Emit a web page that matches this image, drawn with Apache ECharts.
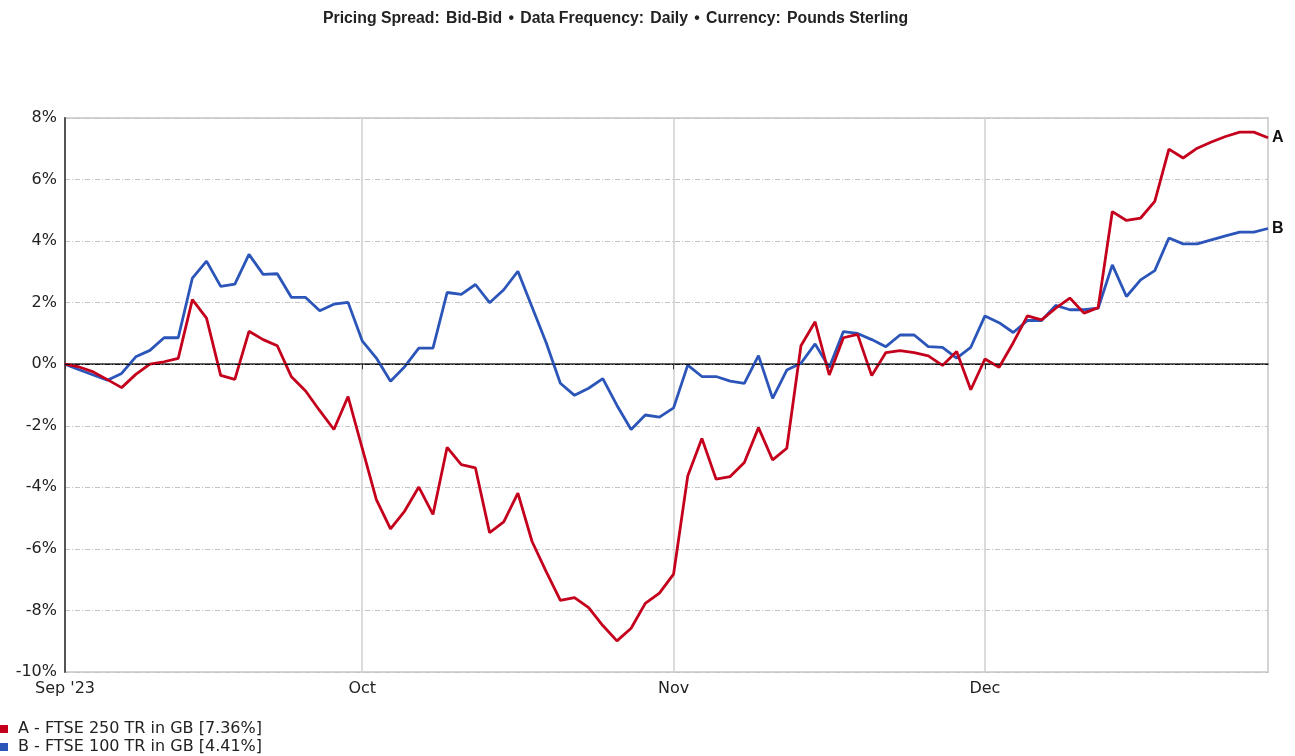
<!DOCTYPE html>
<html>
<head>
<meta charset="utf-8">
<script src="https://cdn.jsdelivr.net/npm/echarts@6/dist/echarts.min.js"></script>
<style>
  html, body { margin: 0; padding: 0; background: #fff; }
  #chart { width: 1295px; height: 756px; }
</style>
</head>
<body>
<div id="chart"></div>
<script>
// Series values (% cumulative total return), one per weekday from 1 Sep 2023
const ftse250 = [
  0, -0.09, -0.25, -0.5, -0.76, -0.33, 0.0, 0.08, 0.19, 2.1,
  1.5, -0.36, -0.49, 1.07, 0.8, 0.6, -0.41, -0.87, -1.51, -2.12,
  -1.05, -2.73, -4.4, -5.35, -4.77, -3.99, -4.88, -2.7, -3.26, -3.37,
  -5.47, -5.12, -4.19, -5.76, -6.74, -7.67, -7.58, -7.91, -8.49, -8.99,
  -8.58, -7.77, -7.44, -6.82, -3.63, -2.41, -3.73, -3.65, -3.19, -2.06,
  -3.11, -2.73, 0.6, 1.38, -0.35, 0.86, 0.97, -0.37, 0.38, 0.44,
  0.38, 0.27, -0.04, 0.41, -0.83, 0.17, -0.1, 0.7, 1.57, 1.44,
  1.82, 2.15, 1.66, 1.84, 4.96, 4.67, 4.75, 5.29, 6.99, 6.7,
  7.02, 7.22, 7.4, 7.54, 7.54, 7.36
];
const ftse100 = [
  0, -0.18, -0.35, -0.52, -0.3, 0.24, 0.45, 0.86, 0.86, 2.8,
  3.35, 2.53, 2.6, 3.57, 2.92, 2.94, 2.17, 2.17, 1.74, 1.95,
  2.01, 0.76, 0.2, -0.55, -0.08, 0.52, 0.52, 2.33, 2.27, 2.59,
  2.0, 2.42, 3.02, 1.86, 0.7, -0.62, -1.01, -0.78, -0.47, -1.34,
  -2.12, -1.65, -1.72, -1.42, -0.03, -0.4, -0.4, -0.55, -0.62, 0.28,
  -1.11, -0.19, 0.03, 0.66, -0.11, 1.06, 1.0, 0.8, 0.57, 0.95,
  0.95, 0.57, 0.55, 0.2, 0.55, 1.57, 1.35, 1.03, 1.42, 1.42,
  1.91, 1.77, 1.77, 1.82, 3.23, 2.2, 2.74, 3.04, 4.1, 3.91,
  3.91, 4.04, 4.17, 4.29, 4.29, 4.41
];
const seriesNames = ['A - FTSE 250 TR in GB [7.36%]', 'B - FTSE 100 TR in GB [4.41%]'];
const seriesTags = ['A', 'B'];
const seriesColors = ['#c4001c', '#2b55b9'];

// x axis tick labels sit on the first trading day of each month
const monthTickIndex = [0, 21, 43, 65];
const monthTickLabels = ["Sep '23", 'Oct', 'Nov', 'Dec'];

// weekday categories
const categories = [];
const d = new Date(2023, 8, 1);
while (categories.length < ftse250.length) {
  const wd = d.getDay();
  if (wd !== 0 && wd !== 6) {
    categories.push(d.getFullYear() + '-' + (d.getMonth() + 1) + '-' + d.getDate());
  }
  d.setDate(d.getDate() + 1);
}

const isMonthStart = (idx) => monthTickIndex.indexOf(idx) >= 0;

const chart = echarts.init(document.getElementById('chart'));
const titleFont = 'Liberation Sans, Arial, sans-serif';
const font = 'DejaVu Sans, Verdana, sans-serif';

const option = {
  animation: false,
  textStyle: { fontFamily: font },
  title: {
    left: 318,
    top: 5,
    text: '{b|Pricing Spread:} {r|Bid-Bid} {b|\u2022} {b|Data Frequency:} {r|Daily} {b|\u2022} {b|Currency:} {r|Pounds Sterling}',
    textStyle: {
      rich: {
        b: { fontFamily: titleFont, fontSize: 15.8, fontWeight: 'bold', color: '#222' },
        r: { fontFamily: titleFont, fontSize: 15.8, color: '#222' }
      }
    }
  },
  legend: {
    orient: 'vertical',
    left: -5,
    bottom: -4,
    icon: 'rect',
    itemWidth: 8,
    itemHeight: 8,
    itemGap: 2,
    textStyle: { fontFamily: font, fontSize: 16, lineHeight: 16, color: '#222', padding: [0, 0, 0, 5] },
    data: seriesNames
  },
  grid: {
    left: 65,
    right: 27,
    top: 118,
    bottom: 84,
    show: true,
    borderColor: '#d4d4d4',
    borderWidth: 2
  },
  xAxis: {
    type: 'category',
    data: categories,
    boundaryGap: false,
    axisLine: { lineStyle: { color: '#333', width: 1.5 } },
    axisTick: {
      show: true,
      interval: (idx) => isMonthStart(idx),
      length: 5,
      lineStyle: { color: '#333' }
    },
    axisLabel: {
      interval: (idx) => isMonthStart(idx),
      formatter: (val, idx) => monthTickLabels[monthTickIndex.indexOf(idx)] || '',
      fontFamily: font,
      fontSize: 16,
      color: '#222',
      margin: 9
    },
    splitLine: {
      show: true,
      interval: (idx) => isMonthStart(idx),
      lineStyle: { color: '#cfcfcf', width: 1.5 }
    }
  },
  yAxis: {
    type: 'value',
    min: -10,
    max: 8,
    interval: 2,
    axisLine: { show: true, lineStyle: { color: '#555', width: 2 } },
    axisTick: { show: false },
    axisLabel: {
      formatter: '{value}%',
      fontFamily: font,
      fontSize: 16,
      color: '#222',
      margin: 8
    },
    splitLine: {
      lineStyle: { color: '#c4c4c4', width: 1, type: [5, 2, 1, 2] }
    }
  },
  series: [0, 1].map((k) => ({
    name: seriesNames[k],
    type: 'line',
    data: k === 0 ? ftse250 : ftse100,
    symbol: 'none',
    z: k === 0 ? 3 : 2,
    lineStyle: { color: seriesColors[k], width: 2.8 },
    itemStyle: { color: seriesColors[k] },
    endLabel: {
      show: true,
      formatter: seriesTags[k],
      fontFamily: titleFont,
      fontSize: 16,
      fontWeight: 'bold',
      color: '#111',
      distance: 4
    },
    markLine: k === 0 ? {
      silent: true,
      symbol: 'none',
      label: { show: false },
      lineStyle: { color: '#111', width: 1, type: [5, 2, 1, 2] },
      data: [{ yAxis: 0 }]
    } : undefined
  }))
};

chart.setOption(option);
</script>
</body>
</html>
